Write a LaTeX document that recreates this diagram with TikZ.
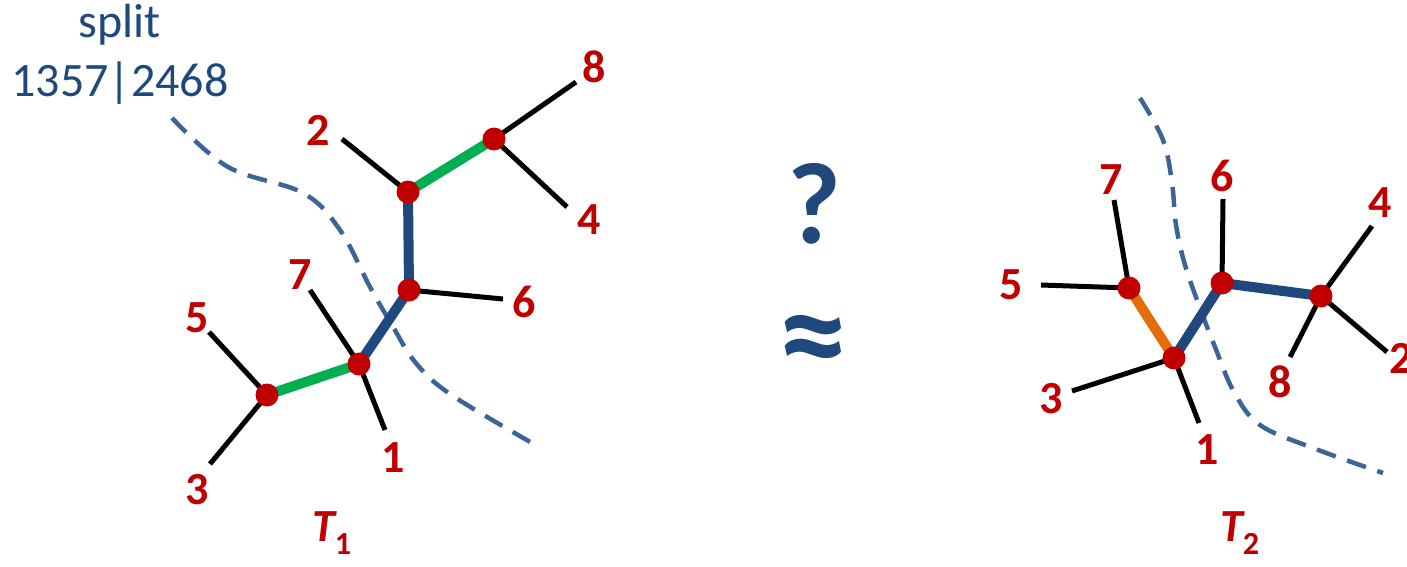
\documentclass[tikz,border=0pt]{standalone}
\usepackage{fontspec}
\setmainfont{Carlito}
\usetikzlibrary{positioning}
\definecolor{splitblue}{RGB}{31,73,125}
\definecolor{dashblue}{RGB}{60,100,150}
\definecolor{leafred}{RGB}{192,0,0}
\definecolor{edgegreen}{RGB}{0,176,80}
\definecolor{edgeorange}{RGB}{228,108,10}

\tikzset{
    leafedge/.style={line width=5pt, black},
    inneredge/.style={line width=10pt},
    leaflabel/.style={text=leafred, font=\fontsize{46}{46}\selectfont\bfseries, inner sep=0pt},
    splitlabel/.style={text=splitblue, font=\fontsize{48}{48}\selectfont, inner sep=0pt, anchor=base},
    bigsymbol/.style={text=splitblue, font=\fontsize{116}{116}\selectfont\bfseries, inner sep=0pt},
    splitline/.style={dashblue, line width=4.5pt, dash pattern=on 20pt off 12pt},
}

\begin{document}
\begin{tikzpicture}[x=1pt, y=-1pt]
    \useasboundingbox (0,0) rectangle (1407,567);
    % --- Split label ---
    \node[splitlabel] (splitword) at (120,38) {split};
    \node[splitlabel] (splitset) at (120,97) {1357|2468};
    % --- T1 (left) ---
    % Inner vertices
    \coordinate (a1) at (267,395);
    \coordinate (a2) at (359,364);
    \coordinate (a3) at (409,290);
    \coordinate (a4) at (408,192);
    \coordinate (a5) at (494,139);
    % Leaf ends
    \coordinate (a5e) at (209,332);
    \coordinate (a3e) at (210,464);
    \coordinate (a7e) at (310,290);
    \coordinate (a1e) at (385,430);
    \coordinate (a6e) at (503,299);
    \coordinate (a2e) at (342,139);
    \coordinate (a8e) at (576,82);
    \coordinate (a4e) at (567,207);
    % Split line
    \draw[splitline] plot[smooth, tension=0.6] coordinates {
        (172,118) (228,167) (303,193) (340,230) (370,287)
        (392,325) (415,362) (450,394) (532,443)};
    % Edges
    \draw[leafedge] (a1) -- (a5e);
    \draw[leafedge] (a1) -- (a3e);
    \draw[leafedge] (a2) -- (a7e);
    \draw[leafedge] (a2) -- (a1e);
    \draw[leafedge] (a3) -- (a6e);
    \draw[leafedge] (a4) -- (a2e);
    \draw[leafedge] (a5) -- (a8e);
    \draw[leafedge] (a5) -- (a4e);
    \draw[inneredge, edgegreen] (a1) -- (a2);
    \draw[inneredge, splitblue] (a2) -- (a3);
    \draw[inneredge, splitblue] (a3) -- (a4);
    \draw[inneredge, edgegreen] (a4) -- (a5);
    \foreach \v in {a1,a2,a3,a4,a5} {
        \fill[leafred] (\v) circle (11.5pt);
    }
    % Leaf labels
    \node[leaflabel] (l5) at (197,318) {5};
    \node[leaflabel] (l3) at (197,490) {3};
    \node[leaflabel] (l7) at (300,275) {7};
    \node[leaflabel] (l1) at (393,458) {1};
    \node[leaflabel] (l6) at (524,302) {6};
    \node[leaflabel] (l2) at (318,130) {2};
    \node[leaflabel] (l8) at (594,67) {8};
    \node[leaflabel] (l4) at (589,220) {4};
    \node[leaflabel, font=\fontsize{46}{46}\selectfont\bfseries\itshape] (t1) at (332,533) {T\textsubscript{\upshape 1}};
    % --- Middle symbols ---
    \node[bigsymbol] (query) at (814,204) {?};
    \node[bigsymbol, font=\fontsize{140}{140}\selectfont\bfseries,
        text height=62pt, text depth=0pt, anchor=base] (approx) at (813,381) {≈};
    % --- T2 (right) ---
    % Inner vertices
    \coordinate (b1) at (1129,288);
    \coordinate (b2) at (1174,358);
    \coordinate (b3) at (1222,283);
    \coordinate (b4) at (1321,296);
    % Leaf ends
    \coordinate (b7e) at (1114,200);
    \coordinate (b5e) at (1041,285);
    \coordinate (b3e) at (1072,391);
    \coordinate (b1e) at (1199,423);
    \coordinate (b6e) at (1223,199);
    \coordinate (b4e) at (1372,226);
    \coordinate (b2e) at (1387,352);
    \coordinate (b8e) at (1290,357);
    % Split line
    \draw[splitline] plot[smooth, tension=0.6] coordinates {
        (1140,98) (1163,140) (1172,183) (1176,225) (1185,265)
        (1200,308) (1215,347) (1234,392) (1260,425) (1313,448) (1383,473)};
    % Edges
    \draw[leafedge] (b1) -- (b7e);
    \draw[leafedge] (b1) -- (b5e);
    \draw[leafedge] (b2) -- (b3e);
    \draw[leafedge] (b2) -- (b1e);
    \draw[leafedge] (b3) -- (b6e);
    \draw[leafedge] (b4) -- (b4e);
    \draw[leafedge] (b4) -- (b2e);
    \draw[leafedge] (b4) -- (b8e);
    \draw[inneredge, edgeorange] (b1) -- (b2);
    \draw[inneredge, splitblue] (b2) -- (b3);
    \draw[inneredge, splitblue] (b3) -- (b4);
    \foreach \v in {b1,b2,b3,b4} {
        \fill[leafred] (\v) circle (11.5pt);
    }
    % Leaf labels
    \node[leaflabel] (r7) at (1111,180) {7};
    \node[leaflabel] (r5) at (1011,285) {5};
    \node[leaflabel] (r3) at (1051,399) {3};
    \node[leaflabel] (r1) at (1207,450) {1};
    \node[leaflabel] (r6) at (1222,176) {6};
    \node[leaflabel] (r4) at (1380,203) {4};
    \node[leaflabel] (r2) at (1401,358) {2};
    \node[leaflabel] (r8) at (1280,382) {8};
    \node[leaflabel, font=\fontsize{46}{46}\selectfont\bfseries\itshape] (t2) at (1240,533) {T\textsubscript{\upshape 2}};
\end{tikzpicture}
\end{document}
